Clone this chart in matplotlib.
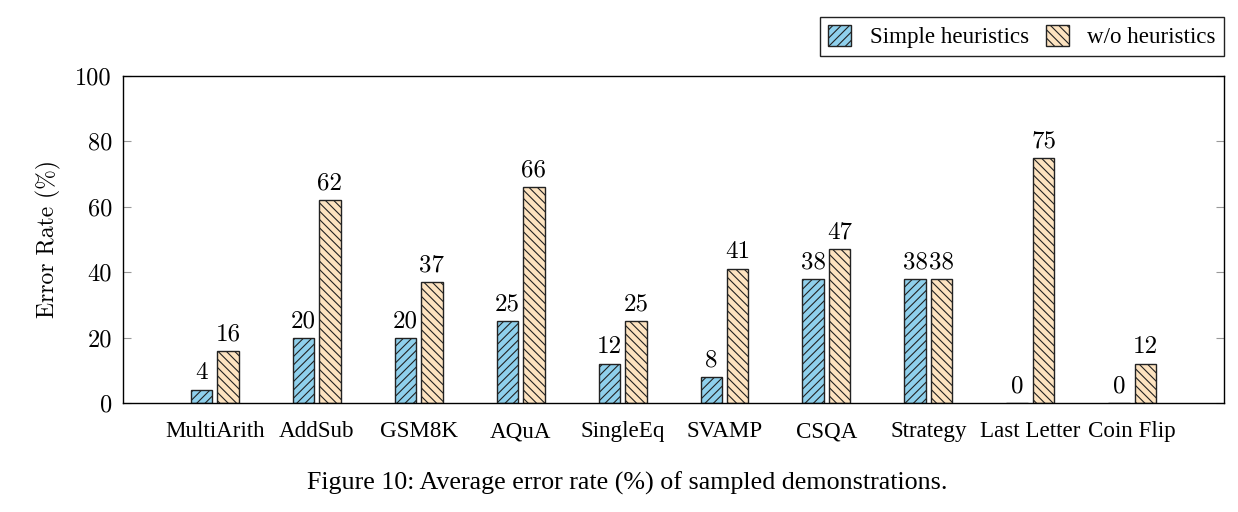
import matplotlib
matplotlib.use("Agg")
import matplotlib.pyplot as plt
from matplotlib.patches import Patch
import numpy as np

# data
tasks = ["MultiArith", "AddSub", "GSM8K", "AQuA", "SingleEq", "SVAMP",
         "CSQA", "Strategy", "Last Letter", "Coin Flip"]
simple = [4, 20, 20, 25, 12, 8, 38, 38, 0, 0]
without = [16, 62, 37, 66, 25, 41, 47, 38, 75, 12]
yticks = [0, 20, 40, 60, 80, 100]

blue = "#8fd0ec"
peach = "#fde3c0"
edge = "#222222"
serif = ["Liberation Serif", "DejaVu Serif"]
cm = ["cmr10", "DejaVu Serif"]

plt.rcParams["hatch.linewidth"] = 0.8
plt.rcParams["axes.unicode_minus"] = False

fig = plt.figure(figsize=(12.38, 5.12), dpi=100)
ax = fig.add_axes([0.0994, 0.2129, 0.8893, 0.6387])

x = np.arange(len(tasks))
w = 0.21
off = 0.13
b1 = ax.bar(x - off, simple, w, color=blue, edgecolor=edge, hatch="////", linewidth=1)
b2 = ax.bar(x + off, without, w, color=peach, edgecolor=edge, hatch="\\\\\\\\", linewidth=1)

for bars, vals in ((b1, simple), (b2, without)):
    for r, v in zip(bars, vals):
        ax.annotate(str(v), (r.get_x() + r.get_width() / 2, v),
                    xytext=(0, 4), textcoords="offset points",
                    ha="center", va="bottom", fontsize=18, family=cm)

ax.set_xlim(-0.9, 9.9)
ax.set_ylim(0, 100)
ax.set_xticks(x)
ax.set_xticklabels(tasks, fontsize=16.6, family=serif)
ax.tick_params(axis="x", length=0, pad=13)
ax.set_yticks(yticks)
ax.set_yticklabels([str(t) for t in yticks], fontsize=17.5, family=cm)
ax.tick_params(axis="y", direction="in", length=6, color="#999999",
               right=True, pad=8)
for s in ax.spines.values():
    s.set_linewidth(1)
ax.set_ylabel("Error Rate (%)", fontsize=17, family=cm, labelpad=10)

handles = [Patch(facecolor=blue, edgecolor=edge, hatch="////", label="Simple heuristics"),
           Patch(facecolor=peach, edgecolor=edge, hatch="\\\\\\\\", label="w/o heuristics")]
fig.legend(handles=handles, loc="upper right", bbox_to_anchor=(0.9887, 0.967),
           borderaxespad=0, ncol=2, fancybox=False, edgecolor="#222222", framealpha=1,
           handlelength=1.0, handleheight=1.0, columnspacing=0.75, handletextpad=0.8,
           borderpad=0.35, prop={"family": serif, "size": 16.6})

fig.text(0.507, 0.057, "Figure 10: Average error rate (%) of sampled demonstrations.",
         ha="center", va="center", fontsize=18.7, family=serif)

fig.savefig("out.png", dpi=100)
